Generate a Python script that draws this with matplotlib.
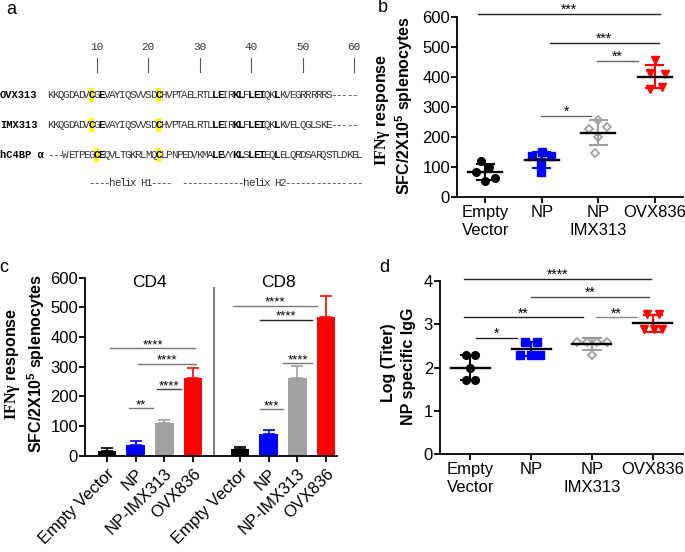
import numpy as np
import matplotlib
matplotlib.use('Agg')
import matplotlib.pyplot as plt
from matplotlib.patches import Rectangle

plt.rcParams['font.family'] = ['Liberation Sans', 'DejaVu Sans']
plt.rcParams['mathtext.fontset'] = 'custom'
plt.rcParams['mathtext.rm'] = 'Liberation Serif:bold'
plt.rcParams['mathtext.bf'] = 'Liberation Serif:bold'
plt.rcParams['mathtext.sf'] = 'Liberation Sans:bold'

# --- panel a: sequence alignment ---
seq_names = ['OVX313', 'IMX313', 'hC4BP α']
sequences = [
    'KKQGDADVCGEVAYIQSVVSDCHVPTAELRTLLEIRKLFLEIQKLKVEGRRRRRS-----',
    'KKQGDADVCGEVAYIQSVVSDCHVPTAELRTLLEIRKLFLEIQKLKVELQGLSKE-----',
    '---WETPEGCEQVLTGKRLMQCLPNPEDVKMALEVYKLSLEIEQLELQRDSARQSTLDKEL',
]
bold_pos = [11, 33, 34, 37, 38, 40, 41, 42, 45]
highlight_pos = [[9, 22], [9, 22], [10, 22]]
ruler_ticks = [10, 20, 30, 40, 50, 60]
helix_labels = [(9, '----helix H1----'),
                (27, '------------helix H2---------------')]

# --- panel b: IFNg ELISpot, dot plot ---
groups_b = ['Empty\nVector', 'NP', 'NP\nIMX313', 'OVX836']
b_empty = [120, 101, 82, 62, 52]
b_np = [150, 137, 137, 118, 82]
b_imx = [258, 228, 233, 201, 148]
b_ovx = [455, 412, 410, 360, 366]

# --- panel c: CD4 / CD8 bars ---
groups_c = ['Empty Vector', 'NP', 'NP-IMX313', 'OVX836']
cd4_mean = [17, 35, 111, 262]
cd4_err = [8, 15, 11, 32]
cd8_mean = [22, 72, 262, 467]
cd8_err = [8, 13, 42, 71]

# --- panel d: log titer NP specific IgG ---
groups_d = ['Empty\nVector', 'NP', 'NP\nIMX313', 'OVX836']
d_empty = [2.3, 2.3, 2.0, 1.7, 1.7]
d_np = [2.6, 2.6, 2.3, 2.3, 2.3]
d_imx = [2.6, 2.6, 2.6, 2.6, 2.3]
d_ovx = [3.24, 3.24, 2.88, 2.88, 2.88]

# significance bars: (x1, x2, y, label, color)
sig_b = [(-0.12, 3.09, 610, '***', '#222222'),
         (1.14, 3.07, 513, '***', '#222222'),
         (1.97, 2.70, 453, '**', '#666666'),
         (0.99, 1.88, 270, '*', '#666666')]
sig_c = [(0.1, 3.08, 363, '****', '#777777'),
         (1.1, 3.1, 310, '****', '#777777'),
         (1.74, 2.6, 225, '****', '#444444'),
         (0.77, 1.62, 160, '**', '#777777'),
         (4.42, 7.35, 505, '****', '#777777'),
         (5.35, 7.18, 459, '****', '#222222'),
         (6.16, 7.16, 311, '****', '#777777'),
         (5.35, 6.14, 156, '***', '#777777')]
sig_d = [(-0.1, 2.98, 4.04, '****', '#222222'),
         (1.0, 2.94, 3.63, '**', '#444444'),
         (-0.1, 1.85, 3.16, '**', '#222222'),
         (2.06, 2.75, 3.16, '**', '#888888'),
         (0.1, 0.76, 2.68, '*', '#222222')]

colors = ['black', '#0000ff', '#a0a0a0', '#ff0000']
markers = ['o', 's', 'D', 'v']
mk_size = [5.5, 5.5, 4.5, 6]

W, H = 685, 552
fig = plt.figure(figsize=(6.85, 5.52), dpi=100)

# overlay in pixel coordinates for panel a and labels
ov = fig.add_axes([0, 0, 1, 1])
ov.set_xlim(0, W)
ov.set_ylim(H, 0)
ov.axis('off')

def seq_x(pos):
    return 50.3 + (pos - 1) * 5.15

mono = 'Liberation Mono'
seq_fs = 7.8
row_y = [95, 125, 155]
for t in ruler_ticks:
    ov.text(seq_x(t), 47, str(t), ha='center', va='center', fontsize=8,
            family=mono, color='#333333')
    ov.plot([seq_x(t), seq_x(t)], [58, 72], color='#555555', lw=0.8)
for name, seq, hl, y in zip(seq_names, sequences, highlight_pos, row_y):
    ov.text(0, y, name, ha='left', va='center', fontsize=7.5, family=mono,
            weight='bold')
    for p in hl:
        ov.add_patch(Rectangle((seq_x(p) - 2.8, y - 7), 5.6, 14,
                               color='#ffff00', lw=0))
    for i, ch in enumerate(seq):
        pos = i + 1
        bold = pos in bold_pos or pos in hl
        ov.text(seq_x(pos), y, ch, ha='center', va='center', fontsize=seq_fs,
                family=mono, weight='bold' if bold else 'normal',
                color='black' if bold else '#333333')
for start, s in helix_labels:
    for i, ch in enumerate(s):
        ov.text(seq_x(start + i), 183, ch, ha='center', va='center',
                fontsize=seq_fs, family=mono, color='#333333')

for lab, (x, y) in zip('abcd', [(11, 10), (383, 7), (4, 268), (384, 267)]):
    ov.text(x, y, lab, ha='center', va='center', fontsize=13)


def style_axes(ax):
    ax.set_facecolor('none')
    for s in ['top', 'right']:
        ax.spines[s].set_visible(False)
    for s in ['left', 'bottom']:
        ax.spines[s].set_linewidth(1.3)
    ax.tick_params(width=1.3, length=4, direction='out')


def add_sig(ax, items, fs=10):
    for x1, x2, y, lab, col in items:
        ax.plot([x1, x2], [y, y], color=col, lw=1, clip_on=False)
        ax.text((x1 + x2) / 2, y, lab, ha='center', va='baseline',
                fontsize=fs, clip_on=False)


def dot_panel(ax, data, offsets, mean_hw=0.3):
    for i, vals in enumerate(data):
        xs = i + np.array(offsets[i])
        col = colors[i]
        if markers[i] == 'D':
            ax.plot(xs, vals, ls='none', marker='D', ms=mk_size[i], mfc='white',
                    mec=col, mew=1.3, zorder=3, clip_on=False)
        else:
            ax.plot(xs, vals, ls='none', marker=markers[i], ms=mk_size[i],
                    color=col, zorder=3, clip_on=False)
        m = np.mean(vals)
        sd = np.std(vals, ddof=1)
        ax.plot([i, i], [m - sd, m + sd], color=col, lw=1.5, zorder=4)
        ax.plot([i - 0.15, i + 0.15], [m - sd] * 2, color=col, lw=1.5, zorder=4)
        ax.plot([i - 0.15, i + 0.15], [m + sd] * 2, color=col, lw=1.5, zorder=4)
        ax.plot([i - mean_hw, i + mean_hw], [m, m], color='black', lw=1.7, zorder=5)


tick_fs = 12

# panel b
ax_b = fig.add_axes([457 / W, 1 - 197 / H, 226 / W, 180 / H])
style_axes(ax_b)
offs_b = [[-0.08, 0.06, -0.17, 0.17, 0.0],
          [0.0, -0.18, 0.16, -0.02, -0.02],
          [0.0, -0.17, 0.15, 0.0, -0.05],
          [0.0, -0.09, 0.18, -0.09, 0.12]]
dot_panel(ax_b, [b_empty, b_np, b_imx, b_ovx], offs_b)
ax_b.set_xlim(-0.5, 3.5)
ax_b.set_ylim(0, 600)
ax_b.set_yticks(range(0, 601, 100))
ax_b.set_xticks(range(4))
ax_b.set_xticklabels(groups_b, fontsize=tick_fs)
ax_b.tick_params(axis='y', labelsize=tick_fs, pad=1)
ax_b.tick_params(axis='x', pad=2)
add_sig(ax_b, sig_b)
fig.text(382 / W, 1 - 110 / H, r'$\mathrm{IFN\gamma}$ response', rotation=90,
         ha='center', va='center', fontsize=11.5, weight='bold')
fig.text(404 / W, 1 - 106 / H, r'SFC/2X10$^\mathsf{5}$ splenocytes', rotation=90,
         ha='center', va='center', fontsize=11.5, weight='bold')

# panel c
ax_c = fig.add_axes([85 / W, 1 - 455.7 / H, 252 / W, 178 / H])
style_axes(ax_c)
x4 = np.arange(4)
x8 = x4 + 4.65
for xs, means, errs in [(x4, cd4_mean, cd4_err), (x8, cd8_mean, cd8_err)]:
    for x, v, e, c in zip(xs, means, errs, colors):
        ax_c.bar(x, v, width=0.65, color=c, zorder=2)
        ax_c.errorbar(x, v, yerr=[[0], [e]], fmt='none', ecolor=c,
                      elinewidth=1.2, capsize=4, capthick=1.2, zorder=1)
ax_c.plot([3.74, 3.74], [0, 565], color='#808080', lw=1.5)
ax_c.text(1.5, 585, 'CD4', ha='center', va='center', fontsize=12.5)
ax_c.text(6.0, 585, 'CD8', ha='center', va='center', fontsize=12.5)
ax_c.set_xlim(-0.77, 8.04)
ax_c.set_ylim(0, 600)
ax_c.set_yticks(range(0, 601, 100))
ax_c.set_xticks(np.concatenate([x4, x8]))
ax_c.set_xticklabels(groups_c * 2, rotation=45, ha='right',
                     rotation_mode='anchor', fontsize=12)
ax_c.tick_params(axis='y', labelsize=12, pad=1)
add_sig(ax_c, sig_c, fs=9.5)
fig.text(13 / W, 1 - 364 / H, r'$\mathrm{IFN\gamma}$ response', rotation=90,
         ha='center', va='center', fontsize=11.5, weight='bold')
fig.text(36 / W, 1 - 364 / H, r'SFC/2X10$^\mathsf{5}$ splenocytes', rotation=90,
         ha='center', va='center', fontsize=11.5, weight='bold')

# panel d
ax_d = fig.add_axes([440 / W, 1 - 454 / H, 243 / W, 173 / H])
style_axes(ax_d)
offs_d = [[-0.08, 0.08, 0.0, -0.08, 0.08],
          [-0.1, 0.1, -0.18, 0.0, 0.15],
          [-0.25, -0.08, 0.08, 0.25, 0.0],
          [-0.09, 0.1, -0.15, 0.02, 0.16]]
dot_panel(ax_d, [d_empty, d_np, d_imx, d_ovx], offs_d, mean_hw=0.32)
ax_d.set_xlim(-0.5, 3.5)
ax_d.set_ylim(0, 4)
ax_d.set_yticks(range(5))
ax_d.set_xticks(range(4))
ax_d.set_xticklabels(groups_d, fontsize=tick_fs)
ax_d.tick_params(axis='y', labelsize=tick_fs, pad=1)
ax_d.tick_params(axis='x', pad=2)
add_sig(ax_d, sig_d)
fig.text(389 / W, 1 - 363 / H, 'Log (Titer)', rotation=90,
         ha='center', va='center', fontsize=11.5, weight='bold')
fig.text(408 / W, 1 - 366 / H, 'NP specific IgG', rotation=90,
         ha='center', va='center', fontsize=11.5, weight='bold')

fig.savefig('out.png', dpi=100)
